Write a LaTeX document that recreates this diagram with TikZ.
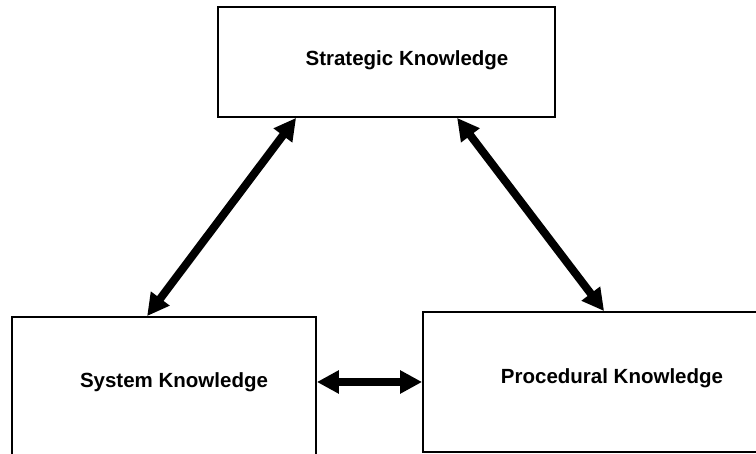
\documentclass[tikz,border=0pt]{standalone}
\usepackage{fontspec}
\setmainfont{Liberation Sans}
\usetikzlibrary{arrows.meta}

\begin{document}
\begin{tikzpicture}[x=1pt, y=1pt,
    box/.style={draw, line width=1.8pt, inner sep=0pt},
    lbl/.style={font=\fontsize{20.5}{24}\selectfont\bfseries},
    link/.style={line width=8pt, {Triangle[length=22pt,width=22pt]}-{Triangle[length=22pt,width=22pt]}}]
            \path[use as bounding box, clip] (0,0) rectangle (756,454);

            \node (strat) at (386.5,392) [box, minimum width=337pt, minimum height=110pt] {};
            \node at (407,394) [lbl] {Strategic Knowledge};

            \node (sys) at (164,58) [box, minimum width=304pt, minimum height=158pt] {};
            \node at (174,72) [lbl] {System Knowledge};

            \node (proc) at (599,72) [box, minimum width=352pt, minimum height=140pt] {};
            \node at (612,76) [lbl] {Procedural Knowledge};

            \draw[link] ([xshift=79pt]strat.south west) -- ([xshift=136pt]sys.north west);
            \draw[link] ([xshift=240pt]strat.south west) -- ([xshift=182pt]proc.north west);
            \draw[link] (sys.east |- proc.west) -- (proc.west);
        \end{tikzpicture}
\end{document}
